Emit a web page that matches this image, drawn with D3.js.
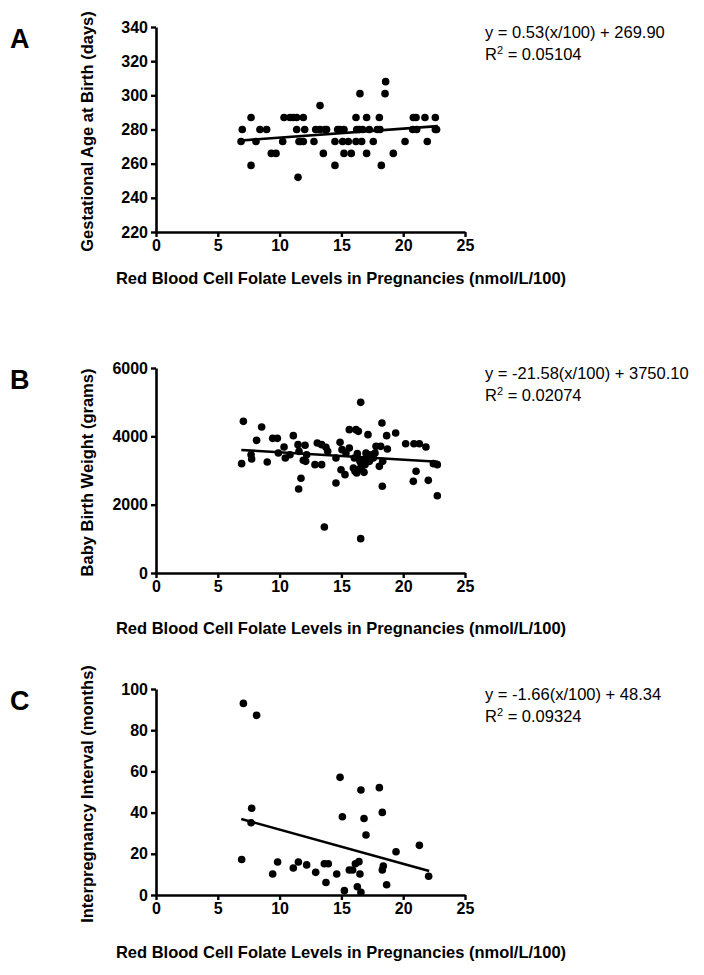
<!DOCTYPE html>
<html>
<head>
<meta charset="utf-8">
<script src="https://cdn.jsdelivr.net/npm/d3@7"></script>
<style>
  html, body { margin: 0; padding: 0; background: #fff; }
  svg { display: block; font-family: "Liberation Sans", Arial, Helvetica, sans-serif; }
</style>
</head>
<body>
<svg id="fig" width="704" height="975"></svg>
<script>
// --- data ---
const xTicks = [0, 5, 10, 15, 20, 25];

// A: gestational age at birth (days)
const gaPts = [
  [6.88,273],[6.98,280],[7.69,287],[7.69,259],[8.09,273],[8.41,280],[8.95,280],[9.33,266],[9.71,266],
  [10.25,273],[10.36,287],[10.84,287],[11.1,287],[11.38,287],[11.38,280],[11.49,252],[11.57,273],[11.7,273],
  [11.92,287],[11.92,273],[12.03,280],[12.78,273],[12.92,280],[13.27,294],[13.27,280],[13.54,266],[13.67,280],
  [13.8,280],[14.48,273],[14.48,259],[14.7,280],[14.89,280],[15.1,273],[15.21,266],[15.21,280],[15.56,273],
  [15.8,266],[16.18,273],[16.18,287],[16.24,280],[16.5,301],[16.64,273],[16.72,280],[16.45,280],[17.04,287],
  [17.04,266],[17.26,280],[17.58,273],[17.9,280],[18.07,287],[18.12,280],[18.23,259],[18.53,301],[18.58,308],
  [19.2,266],[20.15,273],[20.77,280],[20.82,287],[21.04,287],[21.09,280],[21.76,287],[21.95,273],[22.6,287],
  [22.6,280],[22.7,280]
];
const gaFit = [[6.9,273.6],[22.8,282.0]];

// B: baby birth weight (grams)
const bwPts = [
  [6.93,3200],[7.07,4439],[7.69,3463],[7.74,3337],[8.14,3883],[8.55,4273],[9.0,3249],[9.44,3941],[9.82,3941],
  [9.9,3512],[10.36,3688],[10.46,3366],[10.84,3463],[11.11,4020],[11.49,3756],[11.57,3561],[11.54,2459],
  [11.73,2771],[11.92,3298],[12.06,3737],[12.19,3463],[12.11,3268],[12.86,3171],[13.05,3805],[13.4,3171],
  [13.4,3756],[13.62,1346],[13.75,3678],[13.89,3561],[14.56,2634],[14.56,3366],[14.89,3824],[14.97,3024],
  [15.05,3610],[15.29,2878],[15.37,3512],[15.64,3659],[15.64,4195],[15.97,3073],[16.18,4195],[16.24,2927],
  [16.29,3493],[16.37,4146],[16.56,4995],[16.56,1005],[16.5,3268],[16.64,3122],[16.72,3317],[16.83,2946],
  [16.91,3171],[17.04,3395],[17.15,4049],[17.26,3268],[17.45,3434],[17.58,3366],[17.8,3707],[18.07,3122],
  [18.18,3707],[18.28,4390],[18.31,2537],[18.34,3268],[18.66,4020],[18.72,3629],[19.39,4098],[20.2,3785],
  [20.87,3785],[20.82,2683],[21.04,2976],[21.31,3785],[21.84,3688],[22.03,2712],[22.44,3200],[22.76,3171],
  [22.76,2263],[16.1,2976],[16.45,3044],[16.59,3220],[16.78,3220],[16.99,3512],[17.31,3463],[17.72,3512],[16.05,3366]
];
const bwFit = [[6.9,3601],[22.8,3258]];

// C: interpregnancy interval (months)
const ipPts = [
  [7.07,93.0],[8.14,87.2],[7.74,42.1],[7.69,35.1],[6.93,17.2],[9.44,10.2],[9.84,16.0],[11.11,13.1],[11.52,16.0],
  [12.19,14.6],[12.92,11.0],[13.62,15.2],[13.94,15.2],[13.75,6.1],[14.62,10.2],[14.89,57.1],[15.08,38.0],
  [15.24,2.1],[15.64,12.1],[15.91,12.1],[16.13,15.2],[16.42,16.2],[16.29,4.0],[16.5,10.2],[16.58,1.3],
  [16.58,51.0],[16.83,37.1],[16.99,29.1],[18.07,52.1],[18.31,40.1],[18.31,12.1],[18.39,14.1],[18.66,5.0],
  [19.42,21.0],[21.31,24.1],[22.06,9.1]
];
const ipFit = [[6.9,36.9],[22.1,11.7]];

const panels = [
  { letter: 'A', pts: gaPts, fit: gaFit, dom: [220, 340], ticks: [220,240,260,280,300,320,340],
    yTitle: 'Gestational Age at Birth (days)', eq: 'y = 0.53(x/100) + 269.90', r2: '0.05104',
    top: 27, bottom: 232, xTitleY: 284 },
  { letter: 'B', pts: bwPts, fit: bwFit, dom: [0, 6000], ticks: [0,2000,4000,6000],
    yTitle: 'Baby Birth Weight (grams)', eq: 'y = -21.58(x/100) + 3750.10', r2: '0.02074',
    top: 368, bottom: 573, xTitleY: 634 },
  { letter: 'C', pts: ipPts, fit: ipFit, dom: [0, 100], ticks: [0,20,40,60,80,100],
    yTitle: 'Interpregnancy Interval (months)', eq: 'y = -1.66(x/100) + 48.34', r2: '0.09324',
    top: 689, bottom: 895, xTitleY: 958 }
];

const svg = d3.select('#fig');
const x = d3.scaleLinear().domain([0, 25]).range([156, 465]);
const xLab = 'Red Blood Cell Folate Levels in Pregnancies (nmol/L/100)';

panels.forEach(p => {
  const g = svg.append('g');
  const y = d3.scaleLinear().domain(p.dom).range([p.bottom, p.top]);

  // axes
  const ax = g.append('g').attr('transform', `translate(0,${p.bottom})`)
    .call(d3.axisBottom(x).tickValues(xTicks).tickSize(5).tickPadding(3).tickSizeOuter(0));
  const ay = g.append('g').attr('transform', `translate(${x(0)},0)`)
    .call(d3.axisLeft(y).tickValues(p.ticks).tickFormat(d3.format('d')).tickSize(5).tickPadding(3).tickSizeOuter(0));
  [ax, ay].forEach(a => {
    a.select('.domain').attr('stroke', '#000').attr('stroke-width', 2.6);
    a.selectAll('.tick line').attr('stroke', '#000').attr('stroke-width', 2.4);
    a.selectAll('.tick text').attr('fill', '#000').attr('font-size', 16).attr('font-weight', 'bold');
  });

  // points
  g.selectAll('circle').data(p.pts).join('circle')
    .attr('cx', d => x(d[0])).attr('cy', d => y(d[1])).attr('r', 3.8).attr('fill', '#000');

  // fit line
  g.append('path').datum(p.fit)
    .attr('d', d3.line().x(d => x(d[0])).y(d => y(d[1])))
    .attr('stroke', '#000').attr('stroke-width', 2.6).attr('fill', 'none');

  // panel letter
  g.append('text').attr('x', 10).attr('y', p.top + 21)
    .attr('font-size', 27).attr('font-weight', 'bold').text(p.letter);

  // y title
  g.append('text')
    .attr('transform', `translate(93,${(p.top + p.bottom) / 2 + 2}) rotate(-90)`)
    .attr('text-anchor', 'middle').attr('font-size', 16.5).attr('font-weight', 'bold')
    .text(p.yTitle);

  // x title
  g.append('text').attr('x', 341).attr('y', p.xTitleY)
    .attr('text-anchor', 'middle').attr('font-size', 16.5).attr('font-weight', 'bold')
    .text(xLab);

  // equation
  g.append('text').attr('x', 485).attr('y', p.top + 11).attr('font-size', 16.5).text(p.eq);
  const r = g.append('text').attr('x', 485).attr('y', p.top + 33).attr('font-size', 16.5);
  r.append('tspan').text('R');
  r.append('tspan').attr('font-size', 11).attr('dy', -6).text('2');
  r.append('tspan').attr('dy', 6).text(' = ' + p.r2);
});
</script>
</body>
</html>
